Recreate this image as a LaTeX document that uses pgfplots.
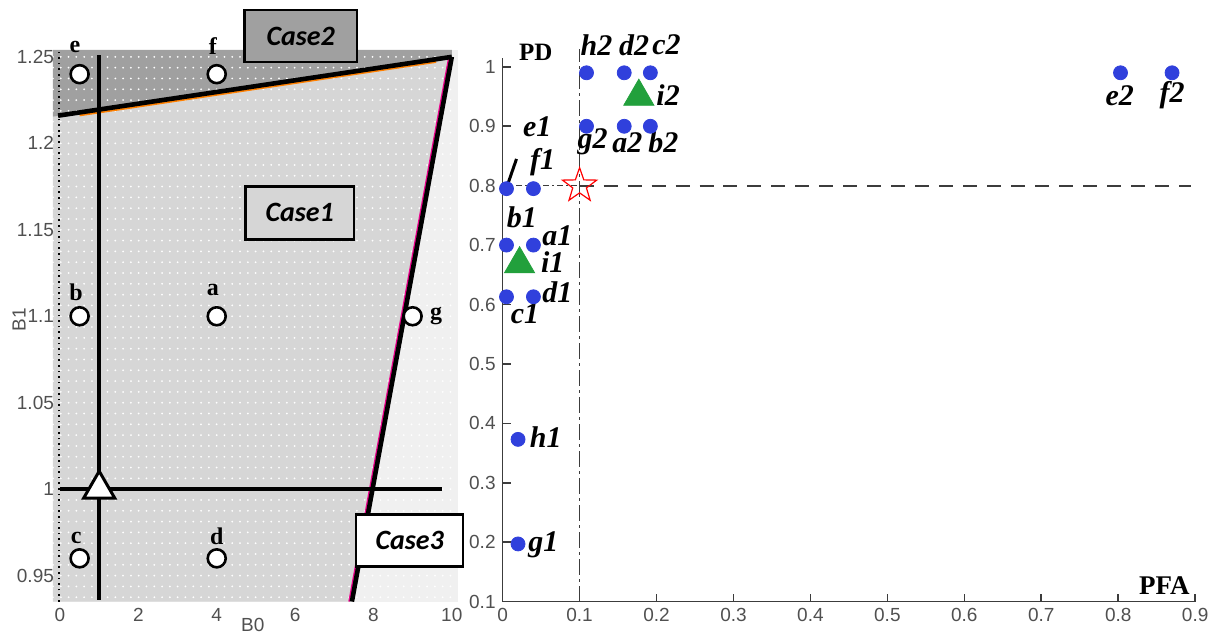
\documentclass[border=0pt]{standalone}
\usepackage{pgfplots}
\pgfplotsset{compat=1.18}
\usepackage{fontspec}
\setmainfont{Liberation Sans}
\newfontfamily\tnr{Liberation Serif}
\newfontfamily\calib{Carlito}
\definecolor{ptblue}{RGB}{48,64,220}
\definecolor{ptgreen}{RGB}{34,160,60}
\definecolor{ticklab}{RGB}{80,80,80}
\definecolor{caseone}{RGB}{214,214,214}
\definecolor{casetwo}{RGB}{160,160,160}
\definecolor{casethree}{RGB}{240,240,240}
\definecolor{axisgray}{RGB}{60,60,60}
\pgfdeclareplotmark{pentastar}{%
  \pgfpathmoveto{\pgfpointpolar{90}{\pgfplotmarksize}}%
  \pgfpathlineto{\pgfpointpolar{126}{0.4\pgfplotmarksize}}%
  \pgfpathlineto{\pgfpointpolar{162}{\pgfplotmarksize}}%
  \pgfpathlineto{\pgfpointpolar{198}{0.4\pgfplotmarksize}}%
  \pgfpathlineto{\pgfpointpolar{234}{\pgfplotmarksize}}%
  \pgfpathlineto{\pgfpointpolar{270}{0.4\pgfplotmarksize}}%
  \pgfpathlineto{\pgfpointpolar{306}{\pgfplotmarksize}}%
  \pgfpathlineto{\pgfpointpolar{342}{0.4\pgfplotmarksize}}%
  \pgfpathlineto{\pgfpointpolar{18}{\pgfplotmarksize}}%
  \pgfpathlineto{\pgfpointpolar{54}{0.4\pgfplotmarksize}}%
  \pgfpathclose
  \pgfusepathqstroke}
\newcommand{\lab}{\tnr\bfseries\itshape\fontsize{15}{15}\selectfont}
\newcommand{\llab}{\tnr\bfseries\fontsize{12}{12}\selectfont}
\tikzset{lb/.style={font=\lab, inner sep=0pt}, ll/.style={font=\llab, inner sep=0pt}}
\begin{document}
\begin{tikzpicture}
% ---------------- left panel ----------------
\begin{axis}[
  set layers,
  at={(26.5pt,20pt)}, anchor=south west,
  scale only axis, width=202.5pt, height=276pt,
  xmin=-0.18, xmax=10.15, ymin=0.935, ymax=1.254,
  axis line style={draw=none},
  major tick length=0pt, minor tick length=0pt,
  xtick={0,2,4,6,8,10}, xticklabels={0,2,4,6,8,10},
  ytick={0.9,0.95,1,1.05,1.1,1.15,1.2,1.25,1.3},
  minor y tick num=7,
  yminorgrids, ymajorgrids,
  grid style={draw=white, line width=1pt, line cap=round, dash pattern=on 0pt off 3.9pt},
  minor grid style={draw=white, line width=1pt, line cap=round, dash pattern=on 0pt off 3.9pt},
  /pgf/number format/assume math mode=true,
  ticklabel style={font=\fontsize{9.5}{10}\selectfont, text=ticklab},
  yticklabel style={xshift=4pt},
  axis background/.style={fill=casethree},
  clip=false,
]
\addplot[fill=caseone, draw=none, on layer=axis background] coordinates {(-0.18,0.935) (7.45,0.935) (10,1.25) (-0.18,1.2154)};
\addplot[fill=casetwo, draw=none, on layer=axis background] coordinates {(-0.18,1.2154) (10,1.25) (10,1.254) (-0.18,1.254)};
\addplot[black, dotted, line width=0.8pt] coordinates {(-0.02,0.935) (-0.02,1.254)};
% coloured fringes
\addplot[orange, line width=1pt, yshift=-1.3pt] coordinates {(0.5,1.2177) (9.6,1.2486)};
\addplot[magenta, line width=0.8pt, xshift=-1.4pt] coordinates {(7.45,0.935) (10,1.25)};
% boundaries
\addplot[black, line width=2.3pt] coordinates {(-0.05,1.216) (10,1.25)};
\addplot[black, line width=2.3pt] coordinates {(10,1.25) (7.45,0.935)};
\addplot[black, line width=2.1pt] coordinates {(1,0.936) (1,1.251)};
\addplot[black, line width=2.1pt] coordinates {(0,1) (9.75,1)};
% points
\addplot[only marks, mark=*, mark size=4.5pt, mark options={fill=white, draw=black, line width=1.3pt}]
  coordinates {(0.5,1.24) (4,1.24) (0.5,1.1) (4,1.1) (9,1.1) (0.5,0.96) (4,0.96)};
\addplot[only marks, mark=triangle*, mark size=9pt, mark options={fill=white, draw=black, line width=1.5pt}]
  coordinates {(1,1)};
\node[ll] at (axis cs:0.38,1.256) {e};
\node[ll] at (axis cs:3.9,1.256) {f};
\node[ll] at (axis cs:0.41,1.114) {b};
\node[ll] at (axis cs:3.9,1.115) {a};
\node[ll] at (axis cs:9.6,1.1) {g};
\node[ll] at (axis cs:0.41,0.972) {c};
\node[ll] at (axis cs:4.0,0.973) {d};
\end{axis}
% ---------------- right panel ----------------
\begin{axis}[
  at={(251.5pt,20pt)}, anchor=south west,
  scale only axis, width=346.5pt, height=272pt,
  xmin=0, xmax=0.9, ymin=0.1, ymax=1.015,
  axis x line=bottom, axis y line=left,
  axis line style={-, draw=axisgray, line width=0.8pt},
  tick align=inside, major tick length=4pt,
  tick style={draw=axisgray, line width=0.8pt},
  xtick={0,0.1,0.2,0.3,0.4,0.5,0.6,0.7,0.8,0.9},
  xticklabels={0,0.1,0.2,0.3,0.4,0.5,0.6,0.7,0.8,0.9},
  ytick={0.1,0.2,0.3,0.4,0.5,0.6,0.7,0.8,0.9,1},
  yticklabels={0.1,0.2,0.3,0.4,0.5,0.6,0.7,0.8,0.9,1},
  /pgf/number format/assume math mode=true,
  ticklabel style={font=\fontsize{9.5}{10}\selectfont, text=ticklab},
  clip=false,
]
\addplot[axisgray, line width=0.9pt, dash pattern=on 7pt off 5pt] coordinates {(0.1,0.8) (0.895,0.8)};
\addplot[axisgray, line width=0.7pt, dash pattern=on 3pt off 1.5pt on 0.8pt off 1.5pt] coordinates {(0,0.8) (0.1,0.8)};
\addplot[axisgray, line width=0.9pt, dash pattern=on 8pt off 2pt on 1.5pt off 2pt] coordinates {(0.1,0.1) (0.1,1.03)};
\addplot[black, line width=1.5pt] coordinates {(0.006,0.80) (0.018,0.845)};
\addplot[only marks, mark=pentastar, mark size=9pt, mark options={draw=red, line width=0.6pt}] coordinates {(0.1,0.8)};
\addplot[only marks, mark=*, mark size=3.5pt, color=ptblue]
  coordinates {(0.005,0.795) (0.04,0.795) (0.005,0.70) (0.04,0.70) (0.005,0.613) (0.04,0.613)
               (0.02,0.373) (0.02,0.197)
               (0.109,0.99) (0.158,0.99) (0.192,0.99) (0.109,0.90) (0.158,0.90) (0.192,0.90)
               (0.803,0.99) (0.87,0.99)};
\addplot[only marks, mark=triangle*, mark size=8.7pt, color=ptgreen]
  coordinates {(0.022,0.668) (0.177,0.950)};
\node[lb] at (axis cs:0.045,0.900) {e1};
\node[lb] at (axis cs:0.052,0.840) {f1};
\node[lb] at (axis cs:0.025,0.747) {b1};
\node[lb] at (axis cs:0.071,0.716) {a1};
\node[lb] at (axis cs:0.065,0.671) {i1};
\node[lb] at (axis cs:0.071,0.621) {d1};
\node[lb] at (axis cs:0.029,0.585) {c1};
\node[lb] at (axis cs:0.056,0.376) {h1};
\node[lb] at (axis cs:0.053,0.196) {g1};
\node[lb] at (axis cs:0.122,1.037) {h2};
\node[lb] at (axis cs:0.171,1.037) {d2};
\node[lb] at (axis cs:0.213,1.037) {c2};
\node[lb] at (axis cs:0.215,0.952) {i2};
\node[lb] at (axis cs:0.117,0.874) {g2};
\node[lb] at (axis cs:0.162,0.873) {a2};
\node[lb] at (axis cs:0.209,0.873) {b2};
\node[lb] at (axis cs:0.802,0.952) {e2};
\node[lb] at (axis cs:0.870,0.952) {f2};
\node[font=\tnr\bfseries\fontsize{12.5}{12.5}\selectfont, inner sep=0pt] at (axis cs:0.043,1.024) {PD};
\node[font=\tnr\bfseries\fontsize{13.5}{13.5}\selectfont, inner sep=0pt] at (axis cs:0.860,0.127) {PFA};
\end{axis}
% ---------------- annotations ----------------
\node[font=\fontsize{9.5}{10}\selectfont, text=ticklab, rotate=90] at (9.5pt,161pt) {B1};
\node[font=\fontsize{9.5}{10}\selectfont, text=ticklab] at (126.5pt,8.5pt) {B0};
\node[draw=black, line width=1.2pt, fill=casetwo, minimum width=56.5pt, minimum height=26pt, inner sep=0pt,
      font=\calib\bfseries\itshape\fontsize{14}{14}\selectfont] at (150.5pt,303pt) {Case2};
\node[draw=black, line width=1.2pt, fill=caseone, minimum width=54.5pt, minimum height=26.5pt, inner sep=0pt,
      font=\calib\bfseries\itshape\fontsize{14}{14}\selectfont] at (150pt,214.5pt) {Case1};
\node[draw=black, line width=1.2pt, fill=white, minimum width=53.5pt, minimum height=26pt, inner sep=0pt,
      font=\calib\bfseries\itshape\fontsize{14}{14}\selectfont] at (205pt,50.5pt) {Case3};
\path (0,0) rectangle (607.5pt,321pt);
\end{tikzpicture}
\end{document}
